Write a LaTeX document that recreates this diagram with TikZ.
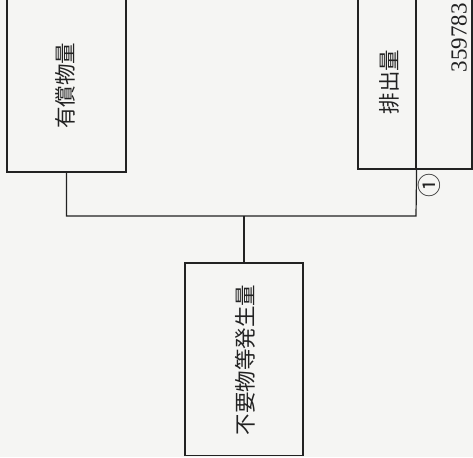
\documentclass[tikz,border=0pt]{standalone}
\usepackage{fontspec}
\setmainfont{Liberation Serif}
\newfontfamily\jp{Noto Sans CJK JP}
\newfontfamily\serifnum{Liberation Serif}
\definecolor{paper}{HTML}{F5F5F3}
\definecolor{ink}{HTML}{222222}
\begin{document}
\begin{tikzpicture}[x=1pt,y=-1pt,
  boxstyle/.style={draw=ink,line width=1.2pt,inner sep=0pt,rectangle},
  jptext/.style={font=\jp\fontsize{21.5}{24}\selectfont,text=ink,rotate=90,inner sep=0pt},
  wire/.style={draw=ink,line width=1.2pt}]
\useasboundingbox (0,0) rectangle (473,457);
\clip (0,0) rectangle (473,457);
\fill[paper] (0,0) rectangle (473,457);
% boxes
\node[boxstyle,minimum width=119pt,minimum height=176pt] (yusho) at (66.5,84) {};
\node[jptext] (yushot) at (65,86) {有償物量};
\node[boxstyle,minimum width=58pt,minimum height=172pt] (haishutsu) at (387,83) {};
\node[jptext] (haishutsut) at (389,82) {排出量};
\node[boxstyle,minimum width=56pt,minimum height=172pt] (numbox) at (444,83) {};
\node[font=\serifnum\fontsize{23}{25}\selectfont,text=ink,rotate=90,inner sep=0pt] (num) at (459,38) {359783};
\node[boxstyle,minimum width=118pt,minimum height=192.5pt] (fuyo) at (244,359.25) {};
\node[jptext] (fuyot) at (245,360) {不要物等発生量};
% connectors
\coordinate (jl) at (66.5,216);
\coordinate (jr) at (416,216);
\coordinate (jm) at (244,216);
\draw[wire] (yusho.south) -- (jl) -- (jr) -- (haishutsu.south east);
\draw[wire] (jm) -- (fuyo.north);
\node[font=\jp\fontsize{24}{26}\selectfont,text=ink,rotate=90,inner sep=0pt] (one) at (429,185) {①};
\end{tikzpicture}
\end{document}
